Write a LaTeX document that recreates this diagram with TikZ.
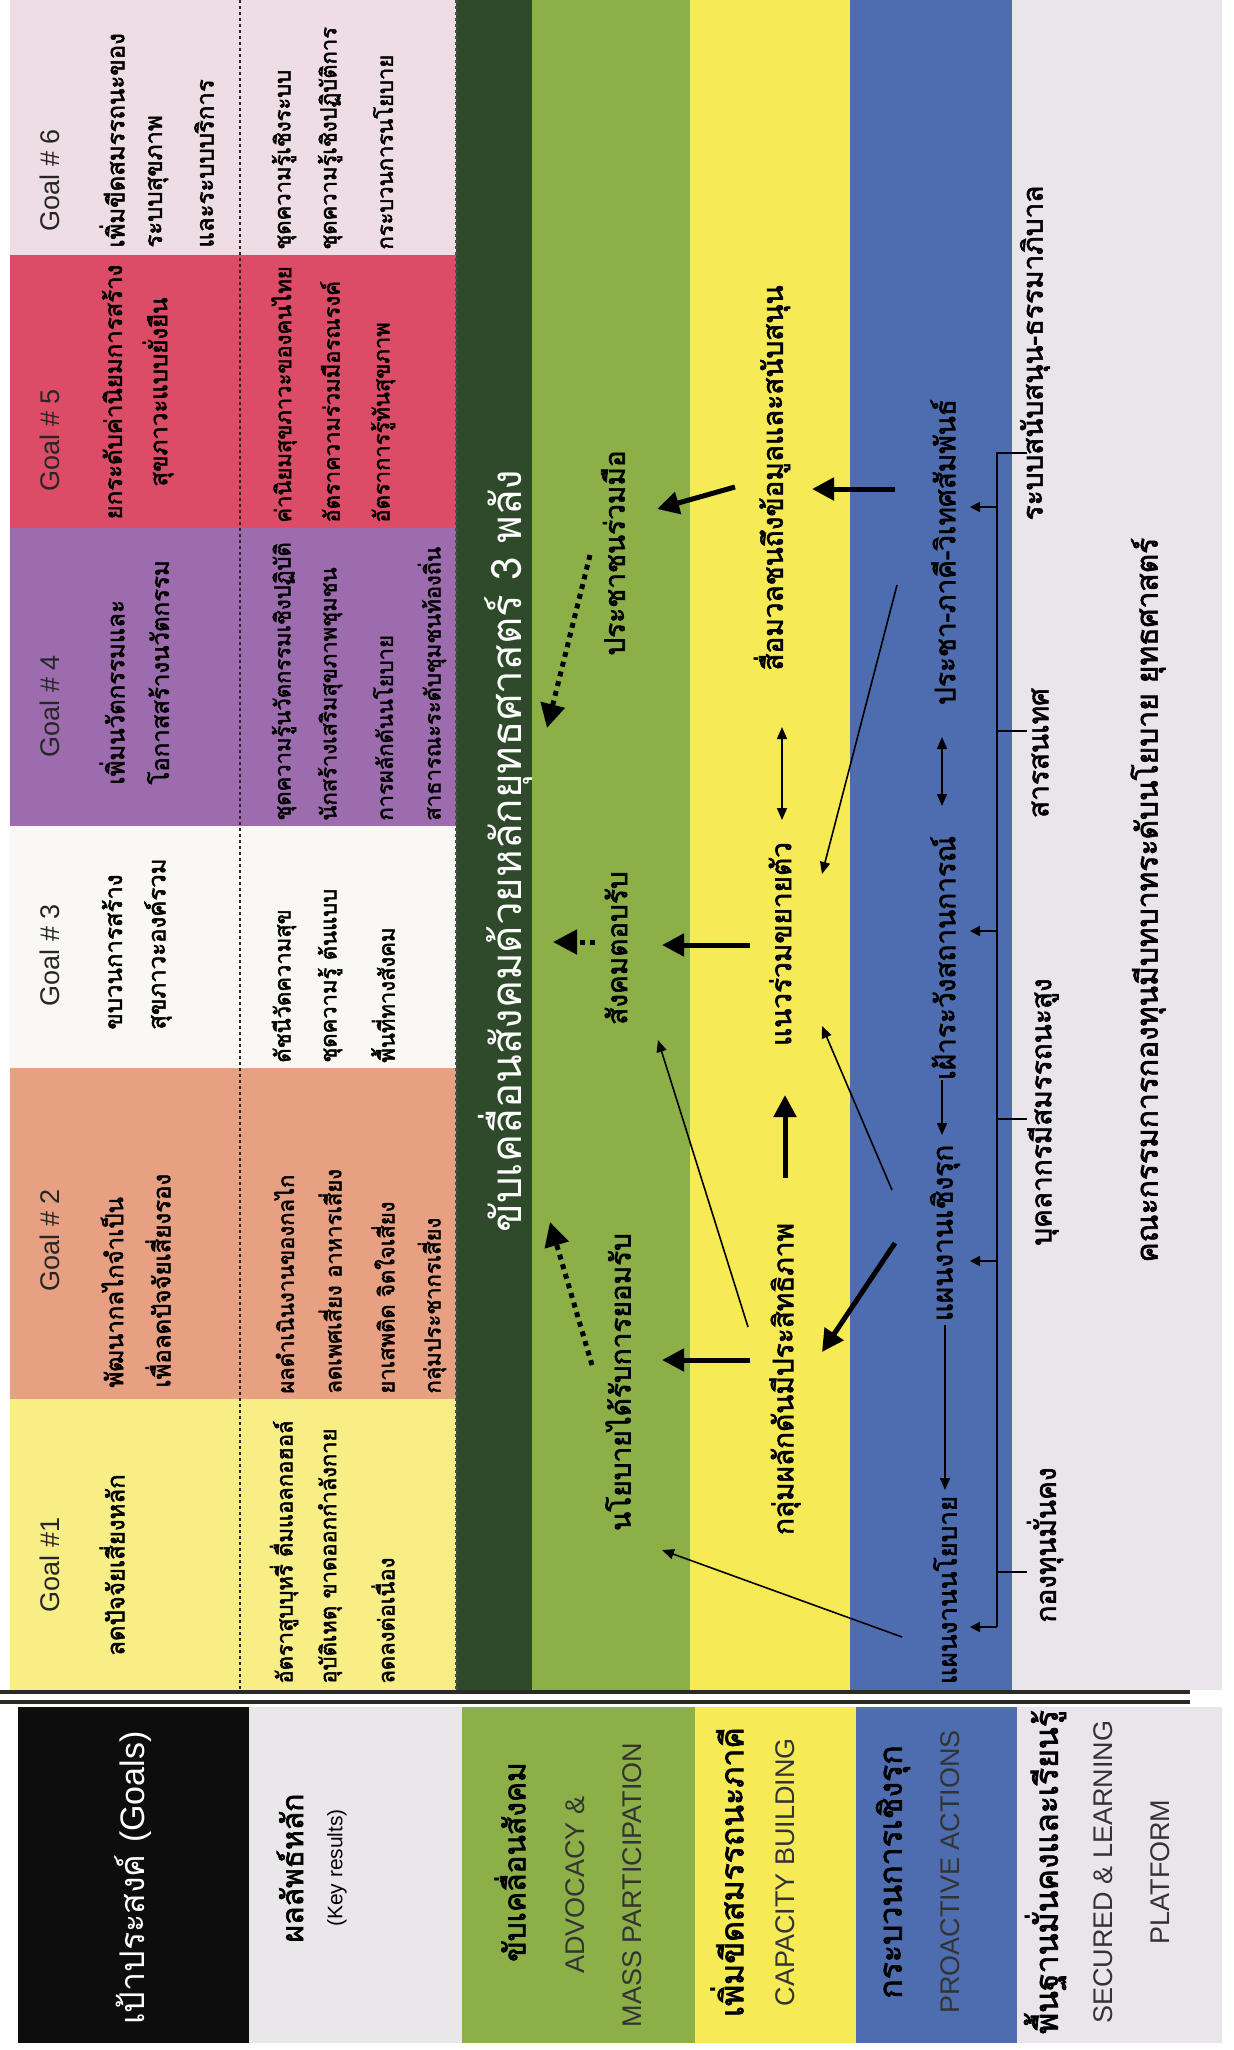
\documentclass[tikz,border=0pt]{standalone}
\usepackage{fontspec}
\setmainfont{Liberation Sans}
\newfontfamily\thai[Script=Thai]{Loma}
\newfontfamily\thaib[Script=Thai,FakeBold=2.2]{Loma}
\usetikzlibrary{arrows.meta}
\definecolor{cgsix}{HTML}{EEDDE4}
\definecolor{cgfive}{HTML}{DD4C66}
\definecolor{cgfour}{HTML}{9D6CAF}
\definecolor{cgthree}{HTML}{F9F8F4}
\definecolor{cgtwo}{HTML}{E8A082}
\definecolor{cgone}{HTML}{F8EE86}
\definecolor{cdgreen}{HTML}{2F4A2B}
\definecolor{clgreen}{HTML}{8CAF48}
\definecolor{cyel}{HTML}{F6EA55}
\definecolor{cblue}{HTML}{4D6DB0}
\definecolor{cgray}{HTML}{E9E5EB}
\definecolor{clabgray}{HTML}{EAE7EB}
\definecolor{cline}{HTML}{2B2B22}
\begin{document}
\begin{tikzpicture}[x=0.5pt,y=-0.5pt,
  txt/.style={rotate=90, inner sep=0pt},
  th/.style={txt, font=\thaib\fontsize{11}{13}\selectfont},
  tt/.style={txt, font=\thaib\fontsize{12}{14}\selectfont},
  tb/.style={txt, font=\thaib\fontsize{14}{16}\selectfont},
  tl/.style={txt, font=\thaib\fontsize{16}{18}\selectfont},
  goalhd/.style={txt, font=\fontsize{13.5}{15}\selectfont, text=black!85},
  eng/.style={txt, font=\fontsize{13.5}{15}\selectfont, text=black!80},
  thk/.style={line width=2.5pt, -{Triangle[length=11pt,width=11pt]}},
  thn/.style={line width=0.8pt, -{Triangle[length=6pt,width=5pt]}},
  thnb/.style={line width=0.8pt, {Triangle[length=6pt,width=5pt]}-{Triangle[length=6pt,width=5pt]}},
  dtt/.style={line width=2.5pt, dash pattern=on 2.5pt off 2.5pt, -{Triangle[length=12pt,width=12pt]}},
  busline/.style={line width=0.8pt},
  busarr/.style={line width=0.8pt, -{Triangle[length=5pt,width=5pt]}},
]
\useasboundingbox (0,0) rectangle (1233,2050);
\fill[white] (0,0) rectangle (1233,2050);
% goal columns
\fill[cgsix] (10,0) rectangle (456,255);
\fill[cgfive] (10,255) rectangle (456,528);
\fill[cgfour] (10,528) rectangle (456,826);
\fill[cgthree] (10,826) rectangle (456,1068);
\fill[cgtwo] (10,1068) rectangle (456,1399);
\fill[cgone] (10,1399) rectangle (456,1690);
% strategy bands
\fill[cdgreen] (456,0) rectangle (532,1690);
\fill[clgreen] (532,0) rectangle (690,1690);
\fill[cyel] (690,0) rectangle (850,1690);
\fill[cblue] (850,0) rectangle (1012,1690);
\fill[cgray] (1012,0) rectangle (1222,1690);
\draw[line width=1.2pt, dash pattern=on 1.5pt off 1.5pt, black!85] (240,0) -- (240,1690);
\draw[line width=1.5pt, dash pattern=on 1.5pt off 1.5pt, black!70] (456,0) -- (456,1690);
% double rule
\draw[line width=2pt, cline] (0,1692) -- (1190,1692);
\draw[line width=2pt, cline] (0,1702) -- (1190,1702);
% row label cells
\fill[black!95] (18,1707) rectangle (249,2043);
\fill[clabgray] (249,1707) rectangle (462,2043);
\fill[clgreen] (462,1707) rectangle (695,2043);
\fill[cyel] (695,1707) rectangle (856,2043);
\fill[cblue] (856,1707) rectangle (1017,2043);
\fill[cgray] (1017,1707) rectangle (1222,2043);

% goal headers
\node[goalhd] (g6h) at (50,180) {Goal \# 6};
\node[goalhd] (g5h) at (50,440) {Goal \# 5};
\node[goalhd] (g4h) at (50,706) {Goal \# 4};
\node[goalhd] (g3h) at (50,955) {Goal \# 3};
\node[goalhd] (g2h) at (50,1240) {Goal \# 2};
\node[goalhd] (g1h) at (50,1565) {Goal \#1};

% goal titles
\node[tt, anchor=west] (g6t1) at (112,248) {เพิ่มขีดสมรรถนะของ};
\node[tt, anchor=west] (g6t2) at (158,248) {ระบบสุขภาพ};
\node[tt, anchor=west] (g6t3) at (204,248) {และระบบบริการ};
\node[tt] (g5t1) at (112,392) {ยกระดับค่านิยมการสร้าง};
\node[tt] (g5t2) at (158,392) {สุขภาวะแบบยั่งยืน};
\node[tt, anchor=west] (g4t1) at (112,785) {เพิ่มนวัตกรรมและ};
\node[tt, anchor=west] (g4t2) at (158,785) {โอกาสสร้างนวัตกรรม};
\node[tt, anchor=west] (g3t1) at (112,1030) {ขบวนการสร้าง};
\node[tt, anchor=west] (g3t2) at (158,1030) {สุขภาวะองค์รวม};
\node[tt, anchor=west] (g2t1) at (112,1388) {พัฒนากลไกจำเป็น};
\node[tt, anchor=west] (g2t2) at (158,1388) {เพื่อลดปัจจัยเสี่ยงรอง};
\node[tt] (g1t1) at (112,1565) {ลดปัจจัยเสี่ยงหลัก};

% key results
\node[th, anchor=west] (k6a) at (284,250) {ชุดความรู้เชิงระบบ};
\node[th, anchor=west] (k6b) at (330,250) {ชุดความรู้เชิงปฏิบัติการ};
\node[th, anchor=west] (k6c) at (383,250) {กระบวนการนโยบาย};
\node[th, anchor=west] (k5a) at (284,523) {ค่านิยมสุขภาวะของคนไทย};
\node[th, anchor=west] (k5b) at (330,523) {อัตราความร่วมมือรณรงค์};
\node[th, anchor=west] (k5c) at (383,523) {อัตราการรู้ทันสุขภาพ};
\node[th, anchor=west] (k4a) at (284,821) {ชุดความรู้นวัตกรรมเชิงปฏิบัติ};
\node[th, anchor=west] (k4b) at (330,821) {นักสร้างเสริมสุขภาพชุมชน};
\node[th, anchor=west] (k4c) at (383,821) {การผลักดันนโยบาย};
\node[th, anchor=west] (k4d) at (432,821) {สาธารณะระดับชุมชนท้องถิ่น};
\node[th, anchor=west] (k3a) at (284,1063) {ดัชนีวัดความสุข};
\node[th, anchor=west] (k3b) at (330,1063) {ชุดความรู้ ต้นแบบ};
\node[th, anchor=west] (k3c) at (383,1063) {พื้นที่ทางสังคม};
\node[th, anchor=west] (k2a) at (284,1394) {ผลดำเนินงานของกลไก};
\node[th, anchor=west] (k2b) at (330,1394) {ลดเพศเสี่ยง อาหารเสี่ยง};
\node[th, anchor=west] (k2c) at (383,1394) {ยาเสพติด จิตใจเสี่ยง};
\node[th, anchor=west] (k2d) at (432,1394) {กลุ่มประชากรเสี่ยง};
\node[th, anchor=west] (k1a) at (284,1684) {อัตราสูบบุหรี่ ดื่มแอลกอฮอล์};
\node[th, anchor=west] (k1b) at (330,1684) {อุบัติเหตุ ขาดออกกำลังกาย};
\node[th, anchor=west] (k1c) at (383,1684) {ลดลงต่อเนื่อง};

% strategy band text
\node[txt, font=\thai\fontsize{21}{24}\selectfont, text=white] (strat) at (505,851) {ขับเคลื่อนสังคมด้วยหลักยุทธศาสตร์ 3 พลัง};

% advocacy
\node[tb] (np) at (618,1382) {นโยบายได้รับการยอมรับ};
\node[tb] (sr) at (616,948) {สังคมตอบรับ};
\node[tb] (pr) at (613,553) {ประชาชนร่วมมือ};
% capacity
\node[tb] (kp) at (785,1379) {กลุ่มผลักดันมีประสิทธิภาพ};
\node[tb] (nk) at (780,944) {แนวร่วมขยายตัว};
\node[tb] (sm) at (772,478) {สื่อมวลชนถึงข้อมูลและสนับสนุน};
% proactive
\node[tb, font=\thaib\fontsize{13}{15}\selectfont] (pn) at (945,1590) {แผนงานนโยบาย};
\node[tb] (pc) at (945,1233) {แผนงานเชิงรุก};
\node[tb] (fw) at (943,958) {เฝ้าระวังสถานการณ์};
\node[tb] (pp) at (943,552) {ประชา-ภาคี-วิเทศสัมพันธ์};
% platform
\node[tb] (ks) at (1045,1545) {กองทุนมั่นคง};
\node[tb] (bk) at (1043,1112) {บุคลากรมีสมรรถนะสูง};
\node[tb] (ss) at (1040,753) {สารสนเทศ};
\node[tb] (rb) at (1035,353) {ระบบสนับสนุน-ธรรมาภิบาล};
\node[tl, font=\thaib\fontsize{15}{17}\selectfont] (kk) at (1148,900) {คณะกรรมการกองทุนมีบทบาทระดับนโยบาย ยุทธศาสตร์};

% row labels
\node[txt, font=\thai\fontsize{17}{20}\selectfont, text=white] (labgoal) at (133,1878) {เป้าประสงค์ {\rmfamily (Goals)}};
\node[tl, font=\thaib\fontsize{15}{17}\selectfont] (labkr) at (290,1868) {ผลลัพธ์หลัก};
\node[txt, font=\fontsize{10.5}{12}\selectfont] (labkre) at (337,1868) {(Key results)};
\node[tl, font=\thaib\fontsize{15}{17}\selectfont] (labadv) at (510,1862) {ขับเคลื่อนสังคม};
\node[eng] (labadve) at (575,1885) {ADVOCACY \&};
\node[eng] (labmass) at (632,1885) {MASS PARTICIPATION};
\node[tl] (labcap) at (727,1872) {เพิ่มขีดสมรรถนะภาคี};
\node[eng] (labcape) at (785,1872) {CAPACITY BUILDING};
\node[tl] (labpro) at (893,1872) {กระบวนการเชิงรุก};
\node[eng] (labproe) at (950,1872) {PROACTIVE ACTIONS};
\node[tl] (labsec) at (1045,1872) {พื้นฐานมั่นคงและเรียนรู้};
\node[eng] (labsece) at (1103,1872) {SECURED \& LEARNING};
\node[eng] (labplat) at (1160,1872) {PLATFORM};

% arrow end points
\coordinate (t1s) at (750,1360); \coordinate (t1e) at (662,1360);
\coordinate (t2s) at (750,945);  \coordinate (t2e) at (662,945);
\coordinate (t3s) at (735,487);  \coordinate (t3e) at (657,509);
\coordinate (t4s) at (895,489);  \coordinate (t4e) at (812,489);
\coordinate (t5s) at (895,1243); \coordinate (t5e) at (822,1352);
\coordinate (t6s) at (785,1178); \coordinate (t6e) at (785,1095);
\coordinate (n1s) at (902,1637); \coordinate (n1e) at (662,1550);
\coordinate (n2s) at (748,1327); \coordinate (n2e) at (658,1040);
\coordinate (n3s) at (892,1190); \coordinate (n3e) at (822,1026);
\coordinate (n4s) at (897,585);  \coordinate (n4e) at (822,874);
\coordinate (n5s) at (782,727);  \coordinate (n5e) at (782,820);
\coordinate (n6s) at (942,737);  \coordinate (n6e) at (942,806);
\coordinate (n7s) at (942,1080); \coordinate (n7e) at (942,1135);
\coordinate (n8s) at (945,1325); \coordinate (n8e) at (945,1490);
\coordinate (d1s) at (592,1365); \coordinate (d1e) at (550,1222);
\coordinate (d2s) at (595,942);  \coordinate (d2e) at (553,942);
\coordinate (d3s) at (590,555);  \coordinate (d3e) at (547,728);

\draw[thk] (t1s) -- (t1e);
\draw[thk] (t2s) -- (t2e);
\draw[thk] (t3s) -- (t3e);
\draw[thk] (t4s) -- (t4e);
\draw[thk] (t5s) -- (t5e);
\draw[thk] (t6s) -- (t6e);
\draw[thn] (n1s) -- (n1e);
\draw[thn] (n2s) -- (n2e);
\draw[thn] (n3s) -- (n3e);
\draw[thn] (n4s) -- (n4e);
\draw[thnb] (n5s) -- (n5e);
\draw[thnb] (n6s) -- (n6e);
\draw[thn] (n7s) -- (n7e);
\draw[thn] (n8s) -- (n8e);
\draw[dtt] (d1s) -- (d1e);
\draw[dtt] (d2s) -- (d2e);
\draw[dtt] (d3s) -- (d3e);

% platform bus
\coordinate (busT) at (997,453);
\coordinate (busB) at (997,1627);
\coordinate (bA) at (997,507);
\coordinate (bB) at (997,931);
\coordinate (bC) at (997,1261);
\coordinate (bTa) at (997,731);
\coordinate (bTb) at (997,1119);
\coordinate (bTc) at (997,1572);
\draw[busline] (1027,453) -- (busT) -- (busB);
\draw[busarr] (busB) -- ++(-27,0);
\draw[busarr] (bA) -- ++(-27,0);
\draw[busarr] (bB) -- ++(-27,0);
\draw[busarr] (bC) -- ++(-27,0);
\draw[busline] (bTa) -- ++(30,0);
\draw[busline] (bTb) -- ++(30,0);
\draw[busline] (bTc) -- ++(30,0);
\end{tikzpicture}
\end{document}
